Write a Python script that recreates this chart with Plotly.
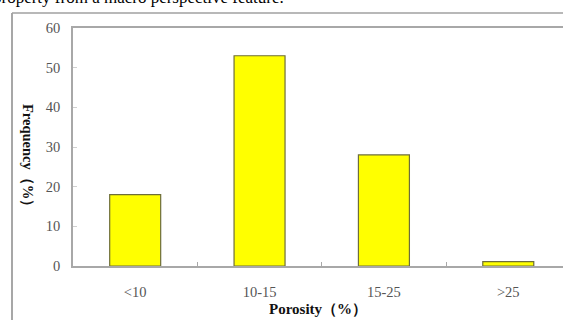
import plotly.graph_objects as go

categories = ["<10", "10-15", "15-25", ">25"]
frequency = [18, 53, 28, 1.1]
y_ticks = [0, 10, 20, 30, 40, 50, 60]

W, H = 563, 320
L, R, T, B = 73, 0, 28, 54
pw, ph = W - L - R, H - T - B

def px(x):
    return (x - L) / pw

def py(y):
    return 1 - (y - T) / ph

fig = go.Figure()
fig.add_trace(go.Bar(
    x=categories, y=frequency, width=0.41,
    marker=dict(color="#ffff00", line=dict(color="#6e6e3a", width=1.2)),
))

grey = "#a8a8a8"
serif = "Liberation Serif, Times New Roman, serif"
fig.update_layout(
    width=W, height=H,
    margin=dict(l=L, r=R, t=T, b=B),
    paper_bgcolor="white", plot_bgcolor="white",
    showlegend=False,
    font=dict(family=serif, color="#555555", size=14),
    xaxis=dict(
        range=[-0.5, 3.44], showline=True, mirror=True, linecolor=grey, linewidth=1.5,
        ticks="inside", tickson="boundaries", ticklen=4, tickcolor=grey,
        showgrid=False, zeroline=False, tickfont=dict(size=14.5, color="#555555"),
        ticklabelstandoff=12,
    ),
    yaxis=dict(
        range=[0, 60], tickvals=y_ticks, showline=True, mirror=False, linecolor=grey, linewidth=1.5,
        ticks="inside", ticklen=4, tickcolor="#d0d0d0", showgrid=False, zeroline=False,
        tickfont=dict(size=14.5, color="#555555"), ticklabelstandoff=8,
    ),
)

fig.add_annotation(
    text="<b>Porosity（%）</b>", xref="paper", yref="paper",
    x=px(318), y=py(309), showarrow=False, xanchor="center", yanchor="middle",
    font=dict(size=15, color="#111111", family=serif),
)
fig.add_annotation(
    text="<b>Frequency（%）</b>", xref="paper", yref="paper",
    x=px(28), y=py(159), showarrow=False, xanchor="center", yanchor="middle", textangle=90,
    font=dict(size=14.5, color="#111111", family=serif),
)
fig.add_annotation(
    text="property from a macro perspective feature.", xref="paper", yref="paper",
    x=px(-9), y=py(9), showarrow=False, xanchor="left", yanchor="bottom",
    font=dict(size=17, color="#000000", family=serif),
)

# outer frame (left and top)
fig.add_shape(type="line", xref="paper", yref="paper", x0=px(12), x1=px(12), y0=py(13), y1=py(330),
              line=dict(color="#8a8a8a", width=1.5))
fig.add_shape(type="line", xref="paper", yref="paper", x0=px(12), x1=px(600), y0=py(13), y1=py(13),
              line=dict(color="#a0a0a0", width=1.5))

fig.write_html("out.html", config={"displayModeBar": False},
               post_script="document.body.style.margin='0';document.body.style.overflow='hidden';")
